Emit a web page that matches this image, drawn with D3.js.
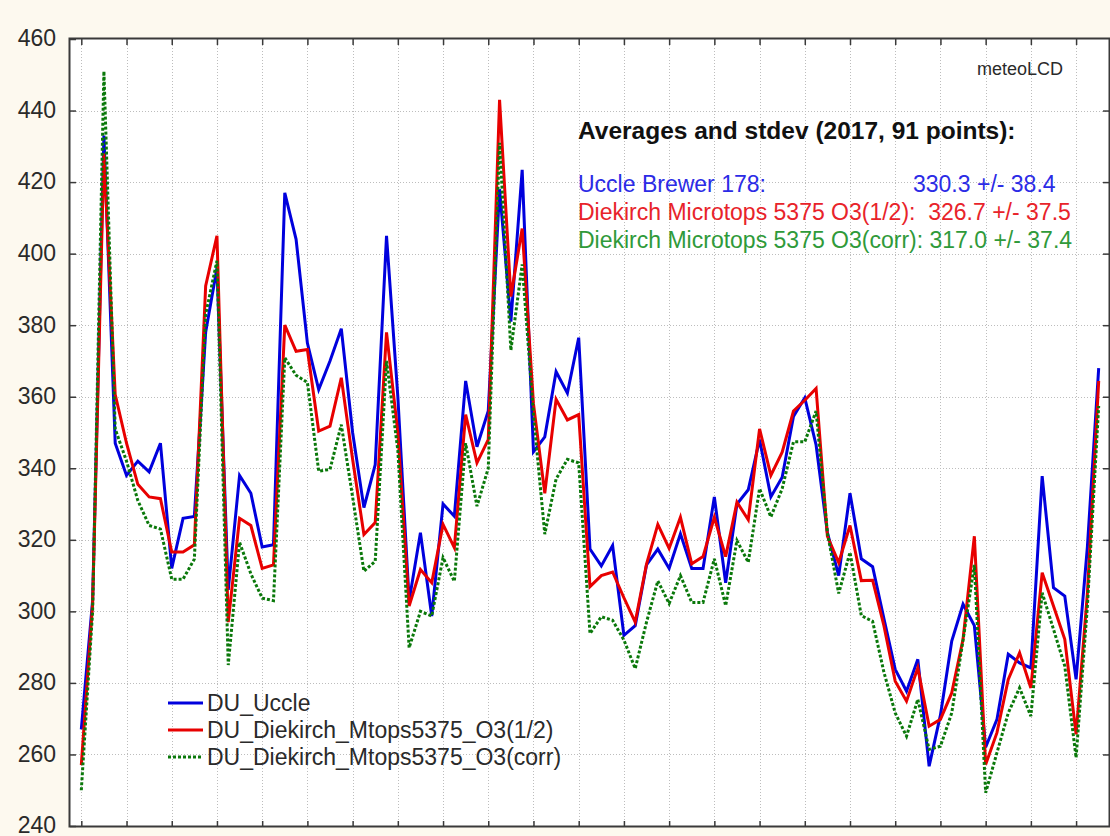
<!DOCTYPE html>
<html>
<head>
<meta charset="utf-8">
<script src="https://cdn.jsdelivr.net/npm/d3@7"></script>
<style>
  html, body { margin: 0; padding: 0; background: #fdf9ef; }
  svg { display: block; }
  text { font-family: "Liberation Sans", Arial, sans-serif; }
</style>
</head>
<body>
<svg id="chart" width="1110" height="836"></svg>
<script>
// Total ozone column (DU), 91 observation days in 2017
const uccle = [267,303,433,347,338,342,339,347,312,326,
  326.5,378,396,306,338,333,318,318.6,417,404,
  375,362,370,379,350,329,341,405,360,303,
  322,298.7,330,326.6,364.4,346,356,418,381,423.4,
  344.6,348.8,367,361,376.5,317.4,312.7,318.4,293.3,296,
  313,317.4,312,321.7,312,312,332,308,330,334,
  348,332,337.5,354.5,359.7,346.5,322,310,333,314.7,
  312.5,298,283.8,277.7,286.6,256.7,271,291.7,302,296,
  262,269.8,288,285.6,284.2,337.8,306.6,304.3,281,318,368];

const diekirchHalf = [257,302,428,360.6,347,335.5,332,331.5,316.6,316.6,
  318.6,391,405,297,326,324,312,313,380,372.7,
  373.2,350.4,351.8,365.3,342.5,321.5,324.8,378,350,301.5,
  311.7,308,324.3,317.8,355,341.5,348,443,388,407,
  358,333,359.3,353.5,355,306.9,310,311,303.8,297,
  313.2,324.3,317.6,326.3,313.3,315.3,326.3,315.3,330.5,325.6,
  351,338,344.5,356,359,362.3,321,313.6,324,308.6,
  308.7,296,280.5,274.9,284.2,267.9,269.8,277.2,292.2,321,
  257.2,266.1,281,288.4,278.6,310.8,301.5,292.2,265.6,305,364.4];

const diekirchCorr = [250,300,451,351,342,331,324,323,309,309,
  314.6,383,398,285,319.3,310.5,303.7,303,370.9,366,
  364,339.2,339.7,352.2,332,311.2,314,370,345,289.8,
  300,298.7,315,308.4,347,329.4,340,431,373,397,
  355,321.6,337,342.5,341.5,293.8,298.5,297.5,292,284,
  297,308.5,302.2,310,302.5,302.5,314.7,301.6,319.8,313.7,
  334.3,326.4,334.3,347.4,347.4,356,322,305,316.5,298.8,
  297.2,283,271.6,265.1,275.4,261.4,262.3,271.6,292,313,
  249.3,260.5,271.6,278.6,270.7,305.2,295,284.7,259.1,301.5,357.4];

const seriesNames = ["DU_Uccle", "DU_Diekirch_Mtops5375_O3(1/2)", "DU_Diekirch_Mtops5375_O3(corr)"];
const yTicks = [240,260,280,300,320,340,360,380,400,420,440,460];
const xTicks = d3.range(0, 89, 4);

const statsTitle = "Averages and stdev (2017, 91 points):";
const statsLabels = ["Uccle Brewer 178:", "Diekirch Microtops 5375 O3(1/2):  326.7 +/- 37.5", "Diekirch Microtops 5375 O3(corr): 317.0 +/- 37.4"];
const statsUccleValue = "330.3 +/- 38.4";
const brand = "meteoLCD";

const svg = d3.select("#chart");
const W = 1110, H = 836;
const plot = {left: 70, right: 1109, top: 39, bottom: 826};

svg.append("rect").attr("width", W).attr("height", H).attr("fill", "#fdf9ef");
svg.append("rect")
  .attr("x", plot.left).attr("y", plot.top)
  .attr("width", plot.right - plot.left).attr("height", plot.bottom - plot.top)
  .attr("fill", "#ffffff");

const x = d3.scaleLinear().domain([-1, 91]).range([plot.left, plot.right + 1]);
const y = d3.scaleLinear().domain([240, 460]).range([plot.bottom, plot.top]);

// dotted grid
const grid = svg.append("g").attr("stroke", "#bdbdbd").attr("stroke-width", 1).attr("stroke-dasharray", "1,2");
grid.selectAll(".gx").data(xTicks).join("line")
  .attr("x1", d => Math.round(x(d)) + 0.5).attr("x2", d => Math.round(x(d)) + 0.5)
  .attr("y1", plot.top).attr("y2", plot.bottom);
grid.selectAll(".gy").data(yTicks.slice(1, -1)).join("line")
  .attr("y1", d => Math.round(y(d)) + 0.5).attr("y2", d => Math.round(y(d)) + 0.5)
  .attr("x1", plot.left).attr("x2", plot.right);

// axes with inward ticks on all four sides
const axisColor = "#3a3a3a";
function styleAxis(g) {
  g.select(".domain").remove();
  g.selectAll(".tick line").attr("stroke", axisColor).attr("stroke-width", 1.5);
}
svg.append("g").attr("transform", `translate(${plot.left},0)`)
  .call(d3.axisLeft(y).tickValues(yTicks).tickSize(-6).tickPadding(14).tickFormat(d3.format("d")))
  .call(styleAxis)
  .call(g => g.selectAll("text").attr("font-size", 23).attr("fill", "#2a2a2a").attr("dy", "0.3em")
    .attr("font-family", '"Liberation Sans", Arial, sans-serif'));
svg.append("g").attr("transform", `translate(${plot.right},0)`)
  .call(d3.axisRight(y).tickValues(yTicks.slice(1, -1)).tickSize(-6).tickFormat(""))
  .call(styleAxis);
svg.append("g").attr("transform", `translate(0,${plot.top})`)
  .call(d3.axisTop(x).tickValues(xTicks).tickSize(-6).tickFormat(""))
  .call(styleAxis);
svg.append("g").attr("transform", `translate(0,${plot.bottom})`)
  .call(d3.axisBottom(x).tickValues(xTicks).tickSize(-5).tickFormat(""))
  .call(styleAxis);

// frame
svg.append("rect")
  .attr("x", plot.left - 0.5).attr("y", plot.top - 0.5)
  .attr("width", plot.right - plot.left + 1).attr("height", plot.bottom - plot.top + 1)
  .attr("fill", "none").attr("stroke", axisColor).attr("stroke-width", 2);

// series
const styles = [
  {data: uccle, color: "#0000dd", dash: null, width: 3},
  {data: diekirchHalf, color: "#e80000", dash: null, width: 3},
  {data: diekirchCorr, color: "#0a780a", dash: "3,2", width: 3}
];
const line = d3.line().x((d, i) => x(i)).y(d => y(d));
styles.forEach(s => {
  svg.append("path").datum(s.data)
    .attr("d", line)
    .attr("fill", "none")
    .attr("stroke", s.color)
    .attr("stroke-width", s.width)
    .attr("stroke-linejoin", "miter")
    .attr("stroke-dasharray", s.dash);
});

// legend
const legend = svg.append("g").attr("transform", "translate(168,703)");
styles.forEach((s, i) => {
  const row = legend.append("g").attr("transform", `translate(0,${i * 27})`);
  row.append("line").attr("x1", 0).attr("x2", 35).attr("y1", 0).attr("y2", 0)
    .attr("stroke", s.color).attr("stroke-width", s.width).attr("stroke-dasharray", s.dash);
  row.append("text").attr("x", 39).attr("y", 0).attr("dy", "0.36em")
    .attr("font-size", 23).attr("fill", "#2a2a2a").text(seriesNames[i]);
});

// annotations
svg.append("text").attr("x", 977).attr("y", 75).attr("font-size", 18).attr("fill", "#2a2a2a").text(brand);
svg.append("text").attr("x", 578).attr("y", 139).attr("font-size", 24.5).attr("font-weight", "bold")
  .attr("fill", "#111").text(statsTitle);
const statColors = ["#2b2be6", "#e8232a", "#2f9a3a"];
statsLabels.forEach((t, i) => {
  svg.append("text").attr("x", 578).attr("y", 192 + i * 28).attr("font-size", 23)
    .attr("fill", statColors[i]).style("white-space", "pre").text(t);
});
svg.append("text").attr("x", 913).attr("y", 192).attr("font-size", 23)
  .attr("fill", statColors[0]).text(statsUccleValue);
</script>
</body>
</html>
